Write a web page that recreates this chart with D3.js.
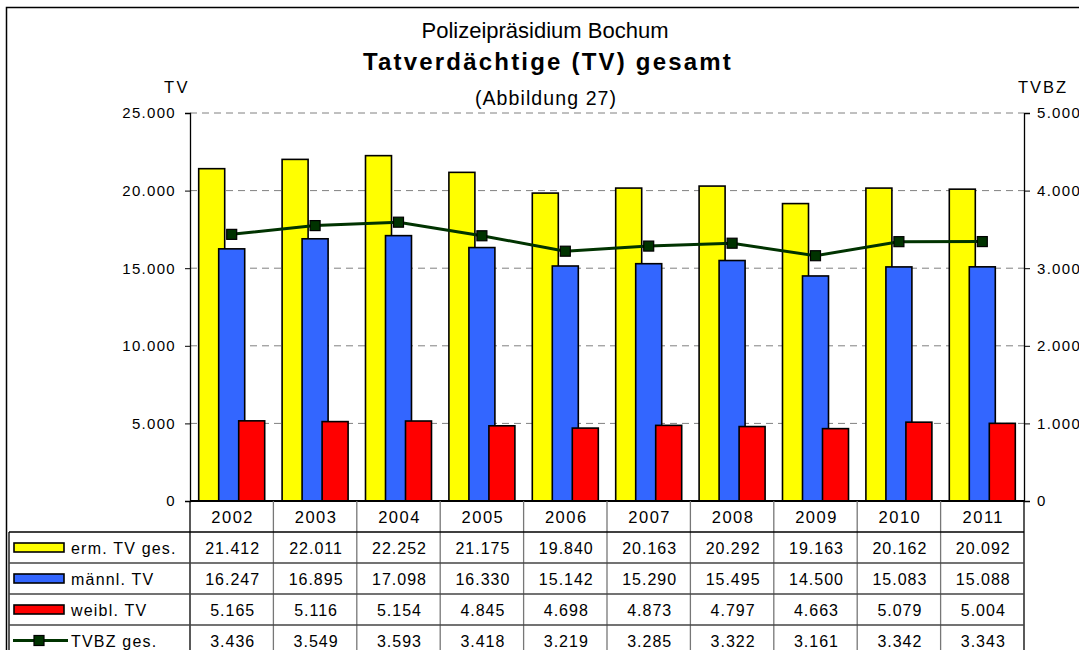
<!DOCTYPE html>
<html>
<head>
<meta charset="utf-8">
<script src="https://cdn.jsdelivr.net/npm/d3@7"></script>
<style>
  body { margin: 0; background: #fff; }
  svg { font-family: "Liberation Sans", Arial, sans-serif; }
</style>
</head>
<body>
<div id="chart"></div>
<script>
const years = ["2002", "2003", "2004", "2005", "2006", "2007", "2008", "2009", "2010", "2011"];
const ermTV = [21412, 22011, 22252, 21175, 19840, 20163, 20292, 19163, 20162, 20092];
const maennlTV = [16247, 16895, 17098, 16330, 15142, 15290, 15495, 14500, 15083, 15088];
const weiblTV = [5165, 5116, 5154, 4845, 4698, 4873, 4797, 4663, 5079, 5004];
const tvbz = [3436, 3549, 3593, 3418, 3219, 3285, 3322, 3161, 3342, 3343];
const leftTicks = [0, 5000, 10000, 15000, 20000, 25000];
const rightTicks = [0, 1000, 2000, 3000, 4000, 5000];

const barSeries = [
    {name: "erm. TV ges.", values: ermTV, color: "#ffff00"},
    {name: "männl. TV", values: maennlTV, color: "#3366ff"},
    {name: "weibl. TV", values: weiblTV, color: "#ff0000"}
];

const width = 1079, height = 650;
const margin = {top: 113, right: 55, bottom: 149, left: 190};
const plotW = width - margin.left - margin.right;
const plotH = height - margin.top - margin.bottom;
const rowH = 31;

const fmt = v => d3.format(",")(v).replace(/,/g, ".");

const svg = d3.select("#chart").append("svg")
    .attr("width", width)
    .attr("height", height);

// outer frame
svg.append("path")
    .attr("d", "M6.5,650 V7.5 H1079")
    .attr("fill", "none")
    .attr("stroke", "#000")
    .attr("stroke-width", 1.5);

// titles
svg.append("text").attr("x", 545).attr("y", 38).attr("text-anchor", "middle")
    .attr("font-size", 22).text("Polizeipräsidium Bochum");
svg.append("text").attr("x", 548).attr("y", 70).attr("text-anchor", "middle")
    .attr("font-size", 24).attr("font-weight", "bold").attr("letter-spacing", 2.2)
    .text("Tatverdächtige (TV) gesamt");
svg.append("text").attr("x", 546).attr("y", 105).attr("text-anchor", "middle")
    .attr("font-size", 19.5).attr("letter-spacing", 1.1).text("(Abbildung 27)");
svg.append("text").attr("x", 177).attr("y", 93).attr("text-anchor", "middle")
    .attr("font-size", 16.5).attr("letter-spacing", 2.5).text("TV");
svg.append("text").attr("x", 1043).attr("y", 93).attr("text-anchor", "middle")
    .attr("font-size", 16.5).attr("letter-spacing", 2).text("TVBZ");

const g = svg.append("g")
    .attr("transform", "translate(" + margin.left + "," + margin.top + ")");

const x = d3.scaleBand().domain(years).range([0, plotW]).padding(0);
const xs = d3.scalePoint().domain(barSeries.map(d => d.name)).range([-20, 20]);
const barW = 26;

const y = d3.scaleLinear().domain([0, 25000]).range([plotH, 0]);
const y2 = d3.scaleLinear().domain([0, 5000]).range([plotH, 0]);

// gridlines
g.append("g")
    .selectAll("line")
    .data(leftTicks.filter(d => d > 0))
    .enter()
    .append("line")
    .attr("x1", 0).attr("x2", plotW)
    .attr("y1", d => y(d)).attr("y2", d => y(d))
    .attr("stroke", "#808080")
    .attr("stroke-dasharray", "7,5");

// bars
barSeries.forEach(function (s) {
    g.append("g")
        .selectAll("rect")
        .data(s.values)
        .enter()
        .append("rect")
        .attr("x", (d, i) => x(years[i]) + x.bandwidth() / 2 + xs(s.name) - barW / 2)
        .attr("y", d => y(d))
        .attr("width", barW)
        .attr("height", d => plotH - y(d))
        .attr("fill", s.color)
        .attr("stroke", "#000")
        .attr("stroke-width", 1.6);
});

// axes
const leftAxis = g.append("g")
    .call(d3.axisLeft(y).tickValues(leftTicks).tickFormat(fmt).tickSize(5).tickPadding(9));
const rightAxis = g.append("g")
    .attr("transform", "translate(" + plotW + ",0)")
    .call(d3.axisRight(y2).tickValues(rightTicks).tickFormat(fmt).tickSize(6).tickPadding(7));
[leftAxis, rightAxis].forEach(function (a) {
    a.select(".domain").attr("stroke", "#000").attr("stroke-width", 1.3);
    a.selectAll("text").attr("font-size", 15).attr("fill", "#000")
        .attr("letter-spacing", 1.3)
        .attr("font-family", "Liberation Sans, Arial, sans-serif");
});
g.append("line")
    .attr("x1", 0).attr("x2", plotW)
    .attr("y1", plotH).attr("y2", plotH)
    .attr("stroke", "#000").attr("stroke-width", 2);

// TVBZ line
const line = d3.line()
    .x((d, i) => x(years[i]) + x.bandwidth() / 2)
    .y(d => y2(d));

g.append("path")
    .datum(tvbz)
    .attr("d", line)
    .attr("fill", "none")
    .attr("stroke", "#003300")
    .attr("stroke-width", 3);

g.append("g")
    .selectAll("rect")
    .data(tvbz)
    .enter()
    .append("rect")
    .attr("x", (d, i) => x(years[i]) + x.bandwidth() / 2 - 5)
    .attr("y", d => y2(d) - 5)
    .attr("width", 10)
    .attr("height", 10)
    .attr("fill", "#003300")
    .attr("stroke", "#000")
    .attr("stroke-width", 1.2);

// data table
const table = g.append("g").attr("transform", "translate(0," + plotH + ")");
const tableRows = [
    {name: "erm. TV ges.", values: ermTV, color: "#ffff00", type: "bar"},
    {name: "männl. TV", values: maennlTV, color: "#3366ff", type: "bar"},
    {name: "weibl. TV", values: weiblTV, color: "#ff0000", type: "bar"},
    {name: "TVBZ ges.", values: tvbz, color: "#003300", type: "line"}
];
const legendLeft = 9 - margin.left;

// header years
table.selectAll(".year")
    .data(years)
    .enter()
    .append("text")
    .attr("x", d => x(d) + x.bandwidth() / 2 + 1)
    .attr("y", rowH / 2 + 6)
    .attr("text-anchor", "middle")
    .attr("font-size", 16.5)
    .attr("letter-spacing", 1.5)
    .text(d => d);

// vertical lines
table.selectAll(".vline")
    .data(years.concat(["end"]))
    .enter()
    .append("line")
    .attr("x1", d => d === "end" ? plotW : x(d))
    .attr("x2", d => d === "end" ? plotW : x(d))
    .attr("y1", 0).attr("y2", rowH * 5 + 5)
    .attr("stroke", (d, i) => (i === 0 || d === "end") ? "#000" : "#777")
    .attr("stroke-width", 1.3);
table.append("line")
    .attr("x1", legendLeft).attr("x2", legendLeft)
    .attr("y1", rowH).attr("y2", rowH * 5 + 5)
    .attr("stroke", "#000").attr("stroke-width", 1.3);

// horizontal lines
table.selectAll(".hline")
    .data(d3.range(1, 5))
    .enter()
    .append("line")
    .attr("x1", legendLeft).attr("x2", plotW)
    .attr("y1", d => d * rowH).attr("y2", d => d * rowH)
    .attr("stroke", d => d === 1 ? "#000" : "#444")
    .attr("stroke-width", 1.3);

tableRows.forEach(function (r, ri) {
    const rowY = rowH * (ri + 1);
    const cy = rowY + rowH / 2;
    if (r.type === "bar") {
        table.append("rect")
            .attr("x", 14 - margin.left).attr("y", cy - 4.5)
            .attr("width", 50).attr("height", 9)
            .attr("fill", r.color)
            .attr("stroke", "#000").attr("stroke-width", 1.6);
    } else {
        table.append("line")
            .attr("x1", 13 - margin.left).attr("x2", 68 - margin.left)
            .attr("y1", cy).attr("y2", cy)
            .attr("stroke", r.color).attr("stroke-width", 3);
        table.append("rect")
            .attr("x", 39 - margin.left - 5).attr("y", cy - 5)
            .attr("width", 10).attr("height", 10)
            .attr("fill", r.color).attr("stroke", "#000").attr("stroke-width", 1.2);
    }
    table.append("text")
        .attr("x", 71 - margin.left).attr("y", cy + 6)
        .attr("font-size", 16)
        .attr("letter-spacing", 1.2)
        .text(r.name);
    table.append("g")
        .selectAll("text")
        .data(r.values)
        .enter()
        .append("text")
        .attr("x", (d, i) => x(years[i]) + x.bandwidth() / 2 + 1)
        .attr("y", cy + 6)
        .attr("text-anchor", "middle")
        .attr("font-size", 16)
        .attr("letter-spacing", 1)
        .text(d => fmt(d));
});
</script>
</body>
</html>
